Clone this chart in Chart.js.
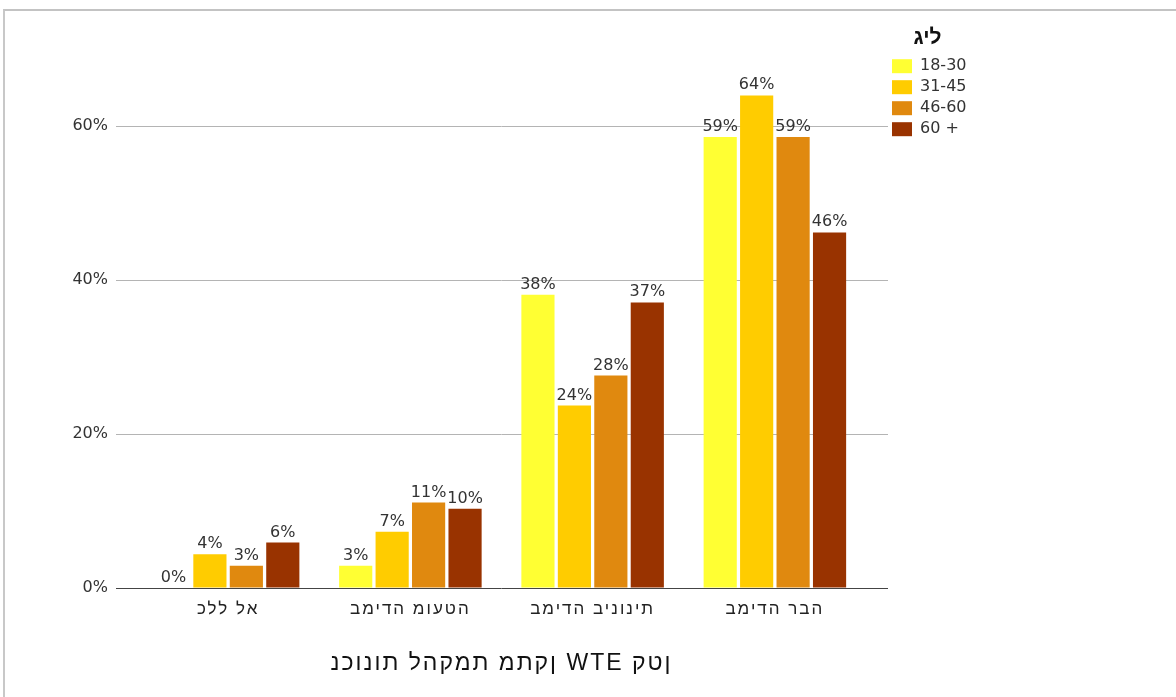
<!DOCTYPE html>
<html>
<head>
<meta charset="utf-8">
<script src="https://cdn.jsdelivr.net/npm/chart.js@4"></script>
<style>
  html, body { margin: 0; padding: 0; background: #fff; }
  #wrap { position: relative; width: 1176px; height: 697px; overflow: hidden; }
  #frame { position: absolute; left: 3px; top: 9px; width: 1300px; height: 800px;
           border-top: 2px solid #c3c3c3; border-left: 2px solid #c8c8c8; }
  canvas { position: absolute; left: 0; top: 0; }
</style>
</head>
<body>
<div id="wrap">
  <div id="frame"></div>
  <canvas id="chart" width="1176" height="697"></canvas>
</div>
<script>
'use strict';

// data
const categories = ['כלל לא', 'במידה מועטה', 'במידה בינונית', 'במידה רבה'];
const ageGroups = ['18-30', '31-45', '46-60', '60 +'];
const age18to30 = [0, 0.029, 0.381, 0.586];
const age31to45 = [0.044, 0.073, 0.237, 0.640];
const age46to60 = [0.029, 0.111, 0.276, 0.586];
const age60plus = [0.059, 0.103, 0.371, 0.462];
const yTicks = [0, 0.2, 0.4, 0.6];
const xTitle = 'נכונות להקמת מתקן WTE קטן';
const legendTitle = 'גיל';

const colors = ['#ffff33', '#ffcc00', '#e0890f', '#993300'];
const FONT = 'DejaVu Sans';
const HEB_FONT = 'Liberation Sans';

// the reference draws hebrew with no bidi (letters left to right), force that
function lro(s){
  return '\u202D' + s + '\u202C';
}

function pct(v){
  return Math.round(v * 100) + '%';
}

function gridColor(ctx){
  return ctx.tick && ctx.tick.value === 0 ? '#444444' : '#b4b4b4';
}

function fixedTicks(scale){
  scale.ticks = yTicks.map(function(v){ return {value: v}; });
}

// value labels above each bar, then widen letters for the x axis texts
// (those are drawn on a later layer, z: 1)
const valueLabels = {
  id: 'valueLabels',
  afterDatasetsDraw(chart){
    const ctx = chart.ctx;
    ctx.save();
    ctx.font = '16px "' + FONT + '"';
    ctx.fillStyle = '#333333';
    ctx.textAlign = 'center';
    ctx.textBaseline = 'alphabetic';
    chart.data.datasets.forEach(function(ds, i){
      chart.getDatasetMeta(i).data.forEach(function(bar, j){
        ctx.fillText(pct(ds.data[j]), bar.x, bar.y - 6);
      });
    });
    ctx.restore();
    ctx.letterSpacing = '2px';
  },
  afterDraw(chart){
    chart.ctx.letterSpacing = '0px';
  }
};

const series = [age18to30, age31to45, age46to60, age60plus];

new Chart(document.getElementById('chart'), {
  type: 'bar',
  data: {
    labels: categories.map(lro),
    datasets: series.map(function(vals, i){
      return {
        label: ageGroups[i],
        data: vals,
        backgroundColor: colors[i],
        borderWidth: 0,
        yAxisID: 'y'
      };
    })
  },
  options: {
    responsive: false,
    animation: false,
    layout: { padding: { left: 0, top: 20, right: 208, bottom: 9 } },
    datasets: { bar: { categoryPercentage: 0.8, barPercentage: 0.91 } },
    scales: {
      x: {
        grid: { display: false, drawTicks: false, z: 1 },
        border: { display: false },
        ticks: { z: 1, padding: 11, color: '#222', font: { family: HEB_FONT, size: 17 } },
        title: {
          display: true,
          text: lro(xTitle),
          color: '#111',
          font: { family: HEB_FONT, size: 23 },
          padding: { top: 0, bottom: 11 }
        },
        afterFit: function(s){ s.height = 100; }
      },
      y: {
        min: 0,
        max: 0.738,
        afterBuildTicks: fixedTicks,
        grid: { color: gridColor, tickLength: 21, lineWidth: 1 },
        border: { display: false },
        ticks: {
          padding: 8,
          color: '#333',
          font: { family: FONT, size: 16 },
          callback: function(v){ return pct(v); }
        },
        afterFit: function(s){ s.width = 137; }
      },
      y2: {
        position: 'right',
        min: 0,
        max: 0.738,
        afterBuildTicks: fixedTicks,
        grid: { drawOnChartArea: false, color: gridColor, tickLength: 22 },
        border: { display: false },
        ticks: { display: false },
        afterFit: function(s){ s.width = 21; }
      }
    },
    plugins: {
      tooltip: { enabled: false },
      legend: {
        position: 'right',
        align: 'start',
        maxWidth: 81,
        title: {
          display: true,
          text: lro(legendTitle),
          color: '#111',
          font: { family: HEB_FONT, size: 21, weight: 'bold' },
          padding: { top: 8, bottom: 0 }
        },
        labels: {
          boxWidth: 20,
          boxHeight: 14,
          padding: 5,
          color: '#333',
          font: { family: FONT, size: 16 }
        }
      }
    }
  },
  plugins: [valueLabels]
});
</script>
</body>
</html>
